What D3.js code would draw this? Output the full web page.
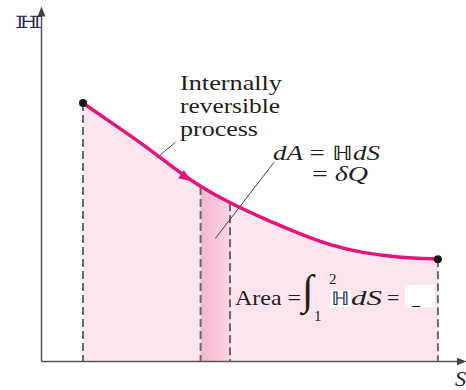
<!DOCTYPE html>
<html>
<head>
<meta charset="utf-8">
<script src="https://cdn.jsdelivr.net/npm/d3@7"></script>
<style>
  body { margin: 0; background: #fff; }
</style>
</head>
<body>
<div class="chart"></div>
<script>
// process curve (S, H in chart units)
var sVals = [1.0, 1.65, 2.45, 3.1, 3.8, 4.5, 5.3, 6.1, 6.9, 7.65, 8.5, 9.45];
var hVals = [7.37, 6.83, 6.17, 5.57, 4.97, 4.51, 4.07, 3.66, 3.30, 3.09, 2.96, 2.91];

// the thin strip dA sits between these two curve points
var stripIdx = [4, 5];
// arrow on the curve sits between this point and the next
var arrowIdx = 3;

var svgWidth = 466;
var svgHeight = 390;
var serif = "Liberation Serif";

var svg = d3.select(".chart")
  .append("svg")
  .attr("width", svgWidth)
  .attr("height", svgHeight);

var x = d3.scaleLinear().domain([0, 10]).range([41, 461]);
var y = d3.scaleLinear().domain([0, 10]).range([361, 11]);

var data = sVals.map((s, i) => ({ s: s, h: hVals[i] }));

var defs = svg.append("defs");

var grad = defs.append("linearGradient")
  .attr("id", "stripGrad")
  .attr("x1", "0").attr("x2", "1").attr("y1", "0").attr("y2", "0");
grad.append("stop").attr("offset", "0").attr("stop-color", "#f4b6ce");
grad.append("stop").attr("offset", "1").attr("stop-color", "#f9d6e5");

defs.append("marker")
  .attr("id", "axArrow")
  .attr("markerUnits", "userSpaceOnUse")
  .attr("markerWidth", 10)
  .attr("markerHeight", 8)
  .attr("refX", 5)
  .attr("refY", 4)
  .attr("orient", "auto")
  .append("path")
  .attr("d", "M0,0 L10,4 L0,8 Z")
  .attr("fill", "#444");

var curve = d3.curveBasis;

// area under the whole curve
svg.append("path")
  .datum(data)
  .attr("d", d3.area().x(d => x(d.s)).y0(y(0)).y1(d => y(d.h)).curve(curve))
  .attr("fill", "#fce5ee");

// darker strip
svg.append("path")
  .datum(stripIdx.map(i => data[i]))
  .attr("d", d3.area().x(d => x(d.s)).y0(y(0)).y1(d => y(d.h)))
  .attr("fill", "url(#stripGrad)");

// dashed verticals
var dashPts = [data[0], data[stripIdx[0]], data[stripIdx[1]], data[data.length - 1]];
svg.selectAll(".drop")
  .data(dashPts)
  .enter()
  .append("line")
  .attr("class", "drop")
  .attr("x1", d => x(d.s))
  .attr("x2", d => x(d.s))
  .attr("y1", d => y(d.h))
  .attr("y2", y(0))
  .attr("stroke", "#6a6a6a")
  .attr("stroke-width", 2)
  .attr("stroke-dasharray", "8,4");

// axes (no ticks), arrows at the ends
var xAxis = svg.append("g")
  .attr("transform", `translate(0, ${y(0)})`)
  .call(d3.axisBottom(x).tickValues([]).tickSizeOuter(0));
var yAxis = svg.append("g")
  .attr("transform", `translate(${x(0)}, 0)`)
  .call(d3.axisLeft(y).tickValues([]).tickSizeOuter(0));
[xAxis, yAxis].forEach(function(ax) {
  ax.select(".domain")
    .attr("stroke", "#555")
    .attr("stroke-width", 1.5)
    .attr("marker-end", "url(#axArrow)");
});

// leader lines (chart units)
var leaders = [
  { s1: 2.75, h1: 5.8, s2: 3.2, h2: 6.25 },
  { s1: 4.15, h1: 3.5, s2: 5.55, h2: 5.68 }
];
svg.selectAll(".leader")
  .data(leaders)
  .enter()
  .append("line")
  .attr("class", "leader")
  .attr("x1", d => x(d.s1))
  .attr("y1", d => y(d.h1))
  .attr("x2", d => x(d.s2))
  .attr("y2", d => y(d.h2))
  .attr("stroke", "#444")
  .attr("stroke-width", 1);

// the process curve
svg.append("path")
  .datum(data)
  .attr("d", d3.line().x(d => x(d.s)).y(d => y(d.h)).curve(curve))
  .attr("fill", "none")
  .attr("stroke", "#e3157c")
  .attr("stroke-width", 3.5);

// direction arrow on the curve, halfway between two points
var a0 = data[arrowIdx], a1 = data[arrowIdx + 1];
var ang = Math.atan2(y(a1.h) - y(a0.h), x(a1.s) - x(a0.s)) * 180 / Math.PI;
svg.append("path")
  .attr("d", "M-6,-5 L6,0 L-6,5 Z")
  .attr("fill", "#e3157c")
  .attr("transform", `translate(${(x(a0.s) + x(a1.s)) / 2}, ${(y(a0.h) + y(a1.h)) / 2 + 1}) rotate(${ang})`);

// end states
svg.selectAll(".state")
  .data([data[0], data[data.length - 1]])
  .enter()
  .append("circle")
  .attr("class", "state")
  .attr("cx", d => x(d.s))
  .attr("cy", d => y(d.h))
  .attr("r", 4)
  .attr("fill", "#1a1a1a");

// labels
function label(px, py, size, width, parts) {
  var t = svg.append("text")
    .attr("x", px)
    .attr("y", py)
    .attr("font-family", serif)
    .attr("font-size", size)
    .attr("fill", "#1e1e1e");
  parts.forEach(function(p) {
    t.append("tspan")
      .attr("font-style", p.it ? "italic" : "normal")
      .text(p.t);
  });
  if (width) t.attr("textLength", width).attr("lengthAdjust", "spacingAndGlyphs");
  return t;
}

label(15, 28, 17, 27, [{ t: "ℍ" }]).attr("font-family", "DejaVu Serif").attr("fill", "#24284a");
label(455, 386, 22, null, [{ t: "S", it: true }]);

label(180, 90, 22, 102, [{ t: "Internally" }]);
label(180, 113, 22, 100, [{ t: "reversible" }]);
label(180, 136, 22, 78, [{ t: "process" }]);

label(273, 160, 20, 107, [{ t: "dA", it: true }, { t: " = ℍ" }, { t: "dS", it: true }]);
label(312, 181, 20, 56, [{ t: "= " }, { t: "δQ", it: true }]);

// Area = ∫ H dS = [ ]
label(235, 305, 22, 66, [{ t: "Area =" }]);
label(302, 304, 42, null, [{ t: "∫" }]);
label(329, 284, 15, null, [{ t: "2" }]);
label(314, 321, 15, null, [{ t: "1" }]);
svg.append("rect")
  .attr("x", 330).attr("y", 290).attr("width", 21).attr("height", 17)
  .attr("fill", "#fff");
label(331, 305, 19, 19, [{ t: "ℍ" }]).attr("fill", "#2b3050");
label(351, 305, 22, 31, [{ t: "dS", it: true }]);
label(387, 305, 22, null, [{ t: "=" }]);
svg.append("rect")
  .attr("x", 405).attr("y", 285).attr("width", 30).attr("height", 22)
  .attr("fill", "#fff");
label(412, 305, 16, null, [{ t: "_" }]);
</script>
</body>
</html>
